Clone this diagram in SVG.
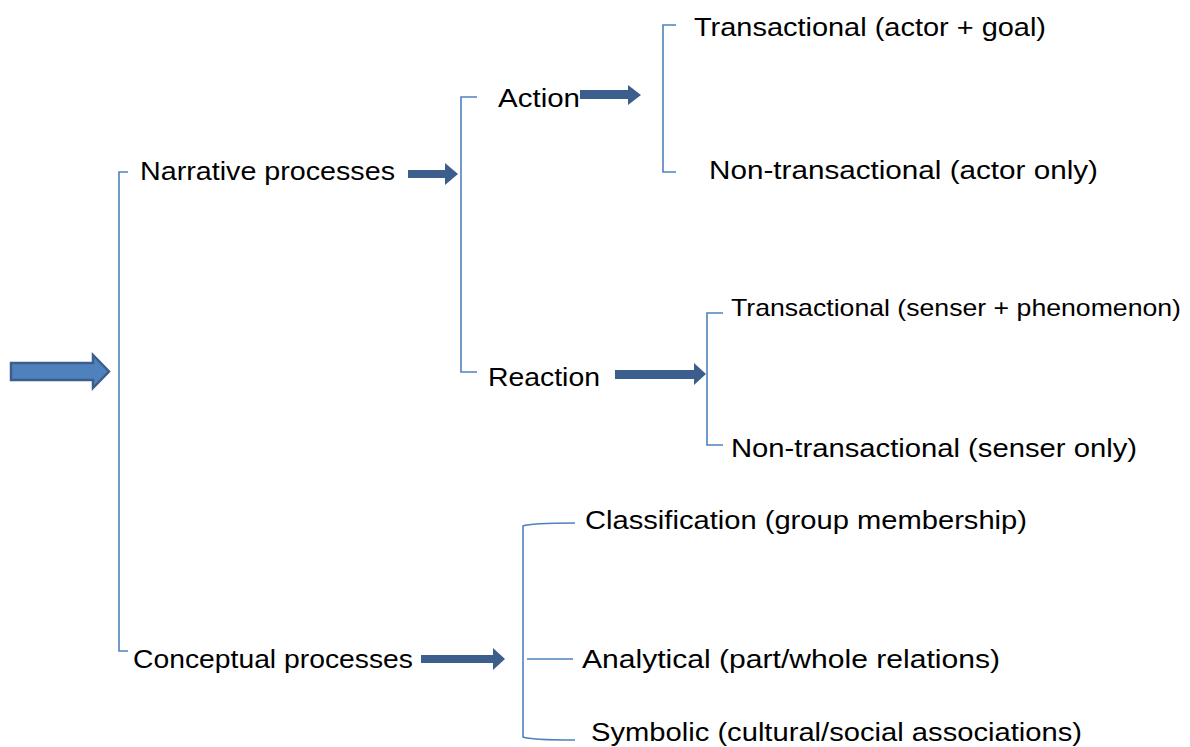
<svg xmlns="http://www.w3.org/2000/svg" width="1190" height="747" viewBox="0 0 1190 747">
<style>
.t{font-family:"Liberation Sans",Arial,sans-serif;font-size:26px;fill:#000}
.s{font-size:24px}
.br{fill:none;stroke:#4F81BD;stroke-width:1.6}
.ar{fill:#3B5E8C}
</style>
<rect width="1190" height="747" fill="#fff"/>
<g id="connectors">
<path class="br" d="M128,172 H119 V651 H128"/>
<path class="br" d="M477,97 H461 V372 H477"/>
<path class="br" d="M676,25 H663 V172 H676"/>
<path class="br" d="M723,313 H707 V445 H723"/>
<path class="br" d="M575,523 Q530,523 523,526 V737 Q530,740 575,740 M527,659 H573"/>
<path d="M11,363 H93 V355 L109,371.5 L93,388 V380 H11 Z" fill="#4F81BD" stroke="#3B5E8C" stroke-width="2.5"/>
<path class="ar" d="M408,170 H445 V163 L458,174 L445,185 V178 H408 Z"/>
<path class="ar" d="M580,90 H628 V85 L641,95 L628,105 V99 H580 Z"/>
<path class="ar" d="M615,370 H694 V363 L706,374 L694,385 V379 H615 Z"/>
<path class="ar" d="M421,655 H493 V648 L505,659 L493,670 V663 H421 Z"/>
</g>
<g id="root"></g>
<g id="narrative"><text class="t" x="140" y="180" textLength="255" lengthAdjust="spacingAndGlyphs">Narrative processes</text></g>
<g id="action"><text class="t" x="498" y="107" textLength="82" lengthAdjust="spacingAndGlyphs">Action</text></g>
<g id="action-trans"><text class="t" x="694" y="36" textLength="352" lengthAdjust="spacingAndGlyphs">Transactional (actor + goal)</text></g>
<g id="action-nontrans"><text class="t" x="709" y="179" textLength="389" lengthAdjust="spacingAndGlyphs">Non-transactional (actor only)</text></g>
<g id="reaction"><text class="t" x="488" y="386" textLength="112" lengthAdjust="spacingAndGlyphs">Reaction</text></g>
<g id="reaction-trans"><text class="t s" x="731" y="316" textLength="450" lengthAdjust="spacingAndGlyphs">Transactional (senser + phenomenon)</text></g>
<g id="reaction-nontrans"><text class="t" x="731" y="457" textLength="406" lengthAdjust="spacingAndGlyphs">Non-transactional (senser only)</text></g>
<g id="conceptual"><text class="t" x="133" y="668" textLength="280" lengthAdjust="spacingAndGlyphs">Conceptual processes</text></g>
<g id="classification"><text class="t" x="585" y="529" textLength="442" lengthAdjust="spacingAndGlyphs">Classification (group membership)</text></g>
<g id="analytical"><text class="t" x="582" y="668" textLength="418" lengthAdjust="spacingAndGlyphs">Analytical (part/whole relations)</text></g>
<g id="symbolic"><text class="t" x="591" y="741" textLength="491" lengthAdjust="spacingAndGlyphs">Symbolic (cultural/social associations)</text></g>
</svg>
